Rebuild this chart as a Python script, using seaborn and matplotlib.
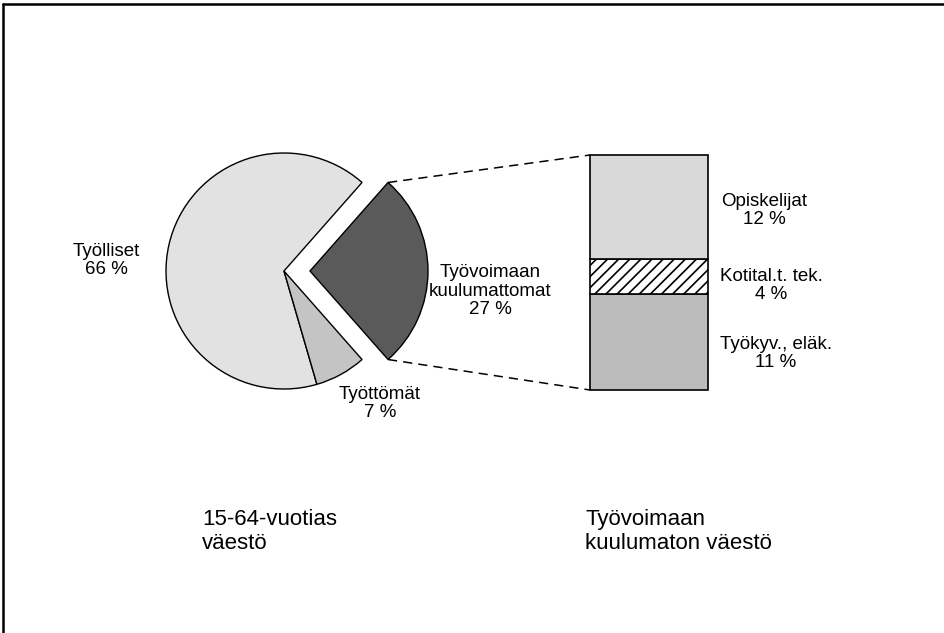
import matplotlib
matplotlib.use("Agg")
import matplotlib.pyplot as plt
import seaborn as sns
import numpy as np

# ----------------------------
# Data
# ----------------------------
pie_labels = ["Työlliset", "Työttömät", "Työvoimaan\nkuulumattomat"]
pie_values = [66, 7, 27]
pie_colors = ["#e2e2e2", "#c4c4c4", "#5a5a5a"]

bar_labels = ["Työkyv., eläk.", "Kotital.t. tek.", "Opiskelijat"]
bar_values = [11, 4, 12]
bar_colors = ["#bcbcbc", "white", "#d9d9d9"]
bar_hatches = [None, "///", None]

caption_left = "15-64-vuotias\nväestö"
caption_right = "Työvoimaan\nkuulumaton väestö"

# ----------------------------
# Style
# ----------------------------
sns.set_theme(style="white")
plt.rcParams["font.family"] = ["Liberation Sans", "DejaVu Sans"]
plt.rcParams["text.color"] = "black"
plt.rcParams["hatch.linewidth"] = 1.2

W, H = 944, 633
fig = plt.figure(figsize=(W / 100, H / 100), dpi=100)
ax = fig.add_axes([0, 0, 1, 1])

# pixel -> data (y up)
def py(y):
    return H - y

# ----------------------------
# Pie (exploded slice offset in data units)
# ----------------------------
cx, cy, r = 284, py(271), 118
start = 360 * pie_values[2] / 100 / 2
wedges, _ = ax.pie(pie_values, colors=pie_colors, startangle=start,
                   counterclock=True, radius=r, center=(cx, cy),
                   explode=[0, 0, 26], frame=True,
                   wedgeprops=dict(edgecolor="black", linewidth=1.0))
ax.set_xlim(0, W)
ax.set_ylim(0, H)
ax.set_aspect("equal")
ax.axis("off")

# ----------------------------
# Stacked bar
# ----------------------------
bx0, bx1 = 590, 708
btop, bbot = 155, 390
scale = (bbot - btop) / sum(bar_values)
bottom = py(bbot)
for v, c, h in zip(bar_values, bar_colors, bar_hatches):
    ax.bar((bx0 + bx1) / 2, v * scale, width=bx1 - bx0, bottom=bottom,
           color=c, hatch=h, edgecolor="black", linewidth=1.2)
    bottom += v * scale

# dashed connectors from exploded wedge to bar
w = wedges[2]
vx, vy = w.center
t1, t2 = np.deg2rad(w.theta1), np.deg2rad(w.theta2)
p_low = (vx + r * np.cos(t1), vy + r * np.sin(t1))
p_high = (vx + r * np.cos(t2), vy + r * np.sin(t2))
ax.plot([p_high[0], bx0], [p_high[1], py(btop)], ls=(0, (6, 4)), color="black", lw=1.1)
ax.plot([p_low[0], bx0], [p_low[1], py(bbot)], ls=(0, (6, 4)), color="black", lw=1.1)

# ----------------------------
# Labels (positions = baseline of the last line)
# ----------------------------
fs = 13.5
ls = 1.1
ax.text(106, py(274), f"{pie_labels[0]}\n{pie_values[0]} %", ha="center", va="baseline",
        fontsize=fs, linespacing=ls)
ax.text(380, py(417), f"{pie_labels[1]}\n{pie_values[1]} %", ha="center", va="baseline",
        fontsize=fs, linespacing=ls)
ax.text(490, py(314), f"{pie_labels[2]}\n{pie_values[2]} %", ha="center", va="baseline",
        fontsize=fs, linespacing=ls)

bar_label_pos = [(776, 367), (771, 299), (764, 224)]
for (lx, ly), lab, v in zip(bar_label_pos, bar_labels, bar_values):
    ax.text(lx, py(ly), f"{lab}\n{v} %", ha="center", va="baseline",
            fontsize=fs, linespacing=ls)

ax.text(202, py(549), caption_left, ha="left", va="baseline", fontsize=16, linespacing=1.2)
ax.text(585, py(549), caption_right, ha="left", va="baseline", fontsize=16, linespacing=1.2)

# frame (top and left edges)
ax.plot([3, W], [py(4), py(4)], color="black", lw=1.8)
ax.plot([3, 3], [py(4), 0], color="black", lw=1.8)

fig.savefig("out.png", dpi=100)
